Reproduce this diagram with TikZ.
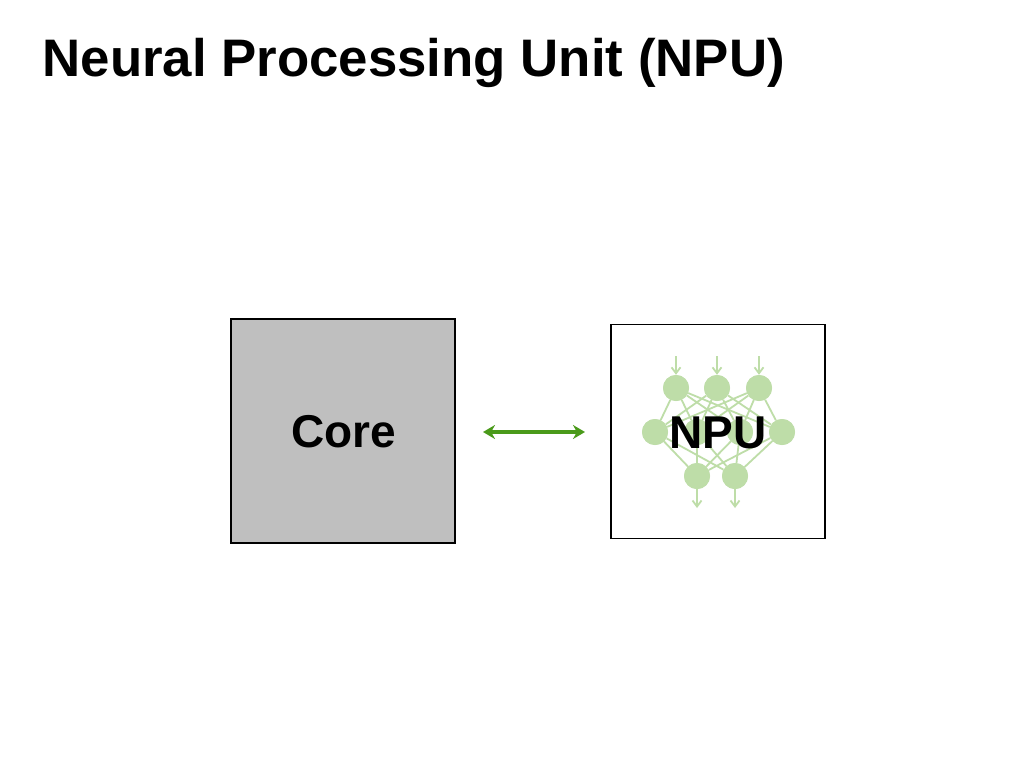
\documentclass[tikz,border=0pt]{standalone}
\usepackage{fontspec}
\setmainfont{Liberation Sans}
\usetikzlibrary{arrows.meta}
\definecolor{nnGreen}{RGB}{190,221,168}
\definecolor{linkGreen}{RGB}{74,154,26}
\definecolor{coreGray}{RGB}{191,191,191}
\tikzset{
  neuron/.style={circle,fill=nnGreen,inner sep=0pt,minimum size=26pt},
  synapse/.style={draw=nnGreen,line width=1.8pt},
  unitbox/.style={draw=black,line width=1.6pt,minimum size=#1,inner sep=0pt},
}
\begin{document}
\begin{tikzpicture}[x=1pt,y=-1pt]
  \useasboundingbox (0,0) rectangle (1024,768);
  \node[anchor=base west,font=\bfseries\fontsize{52.8}{60}\selectfont] (title) at (39,77)
    {Neural Processing Unit (NPU)};
  % core block
  \node[unitbox=224pt,fill=coreGray] (core) at (343,431) {};
  \node[font=\bfseries\fontsize{46}{50}\selectfont] (coretext) at (344,432) {Core};
  % npu block
  \node[unitbox=214pt,fill=white] (npu) at (718,431.5) {};
  \draw
    (676,388) node[neuron] (t1){}
    (717,388) node[neuron] (t2){}
    (759,388) node[neuron] (t3){}
    (655,432) node[neuron] (m1){}
    (697,432) node[neuron] (m2){}
    (740,432) node[neuron] (m3){}
    (782,432) node[neuron] (m4){}
    (697,476) node[neuron] (b1){}
    (735,476) node[neuron] (b2){};
  \coordinate (i1) at (676,356);
  \coordinate (i2) at (717,356);
  \coordinate (i3) at (759,356);
  \coordinate (o1) at (697,508);
  \coordinate (o2) at (735,508);
  \begin{scope}[synapse]
    \foreach \a in {t1,t2,t3}
      \foreach \b in {m1,m2,m3,m4}
        \draw (\a) to (\b);
    \foreach \a in {m1,m2,m3,m4}
      \foreach \b in {b1,b2}
        \draw (\a) to (\b);
  \end{scope}
  \begin{scope}[synapse,-{Straight Barb[length=6pt,width=9pt]}]
    \draw (i1) to (t1);
    \draw (i2) to (t2);
    \draw (i3) to (t3);
    \draw (b1) to (o1);
    \draw (b2) to (o2);
  \end{scope}
  \foreach \n in {t1,t2,t3,m1,m2,m3,m4,b1,b2}
    \node[neuron] at (\n) {};
  \node[font=\bfseries\fontsize{46}{50}\selectfont] (npulabel) at (718,433) {NPU};
  % link between core and npu
  \coordinate (la) at (483,432);
  \coordinate (lb) at (585,432);
  \draw[linkGreen,line width=3.6pt,{Stealth[length=12pt,width=14pt]}-{Stealth[length=12pt,width=14pt]}]
    (la) to (lb);
\end{tikzpicture}
\end{document}
